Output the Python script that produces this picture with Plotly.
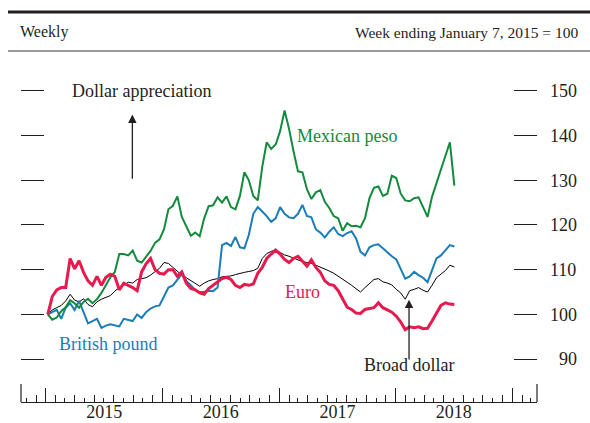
import pandas as pd
import plotly.graph_objects as go

# ---------------- data (biweekly, week ending Jan 7 2015 = 100) ----------------
dates = pd.date_range("2015-01-07", periods=92, freq="14D")

mexican_peso = [
    100, 98.8, 99.3, 100.7, 101.6, 103.2, 102.5, 101.5, 102.8, 103.5,
    102.5, 103.4, 104.8, 106.5, 108.3, 109.5, 113.5, 113.5, 113.2, 114.3,
    112, 111.6, 112.8, 114.2, 116, 116.8, 119, 123.5, 124.3, 126.4,
    121.8, 119.5, 117.6, 118.3, 117.5, 121.5, 124.2, 124.4, 126.2, 125,
    126.4, 124, 123.5, 126.5, 131.8, 130, 126.5, 125.5, 133, 138.5,
    137, 138, 141, 145.6, 141.5, 136.5, 132, 131.8, 128, 125.8,
    127.3, 127.8, 125.2, 123.8, 122, 121.5, 118.7, 120.4, 119.7, 119.8,
    119.5, 121.5, 126, 128.3, 128.6, 126.5, 127, 131, 130.5, 127,
    125.5, 125.3, 126, 126.2, 123.8, 121.8, 126.3, 129.5, 132.5, 135.5,
    138.5, 128.8,
]

british_pound = [
    100, 100.5, 101, 99, 101.5, 102.5, 101, 103, 100.5, 98,
    98.5, 99, 97, 97.5, 97.8, 97.6, 97.3, 99, 98.8, 98.5,
    100, 99.2, 100.5, 101.3, 101.8, 102, 104, 106, 106.5, 107.8,
    109, 107.5, 106.5, 105.5, 105, 105, 105.3, 105.2, 106, 115.5,
    116, 115.3, 117.3, 115, 114.8, 117.8, 122.5, 124, 123, 122,
    120.7, 121.5, 124, 122.5, 121.7, 121.5, 122.5, 124.5, 122, 121.7,
    119, 118.3, 117.2, 118.5, 119.5, 118, 117.5, 118.2, 118.6, 117,
    114, 113.2, 115, 115.5, 115.7, 114.8, 113.8, 113, 112.3, 110,
    108, 108.5, 109.5, 108.8, 108.2, 107.2, 110, 112.5, 113.2, 114.3,
    115.5, 115.2,
]

euro = [
    100, 104, 105.5, 106, 106, 112.5, 110.2, 112, 109.4, 107.5,
    106.5, 108.5, 106.5, 108.3, 109, 108.5, 105.5, 107, 106.5, 106,
    105.3, 109.5, 111.3, 112.5, 110, 109.2, 109, 110, 110, 108.5,
    109.5, 107, 105.8, 105.5, 104.8, 104.5, 105.8, 106.5, 107.4, 108,
    108.3, 107.8, 106.5, 106, 106.7, 106.5, 106.8, 109.2, 110.5, 112.5,
    113.5, 114.4, 113.5, 112.3, 111.6, 112.5, 113, 112, 110.8, 112.2,
    110.5, 109.4, 107.5, 106.7, 106.5, 105.3, 103.5, 101.6, 101.1, 100.3,
    100.2, 101.1, 101.3, 101.5, 102.6, 101.5, 101, 100.5, 99.6, 98.3,
    96.6, 97.2, 97, 97.2, 96.8, 96.9, 98.5, 100.4, 102, 102.6,
    102.3, 102.2,
]

broad_dollar = [
    100, 101, 101.5, 102, 103, 104.5, 103.2, 102.8, 103.5, 102.2,
    101.7, 102.8, 103.4, 103.8, 104.2, 105.2, 106, 106.5, 107.2, 107,
    107.8, 108, 108.2, 108.8, 109.6, 110.3, 111.6, 111.4, 110.5, 109.6,
    108.8, 108.2, 107.6, 107, 106.3, 107, 107.5, 107.8, 108, 108.4,
    108.5, 108.6, 108.9, 109.2, 109.4, 109.6, 109.8, 110.3, 112.5, 113.6,
    114.1, 114.4, 113.9, 113.3, 113, 112.6, 112.2, 111.8, 111.6, 111.4,
    111, 110.6, 110.2, 109.7, 109.2, 108.6, 108, 107.2, 106.5, 105.8,
    105, 106, 107, 107.8, 108, 107.3, 107, 106.6, 105.6, 104.8,
    103.4, 105.3, 105.6, 106, 105.4, 105, 106.5, 108.2, 109, 109.8,
    111, 110.6,
]

y_ticks = [90, 100, 110, 120, 130, 140, 150]
y_tick_text = ["\u200790", "100", "110", "120", "130", "140", "150"]

# ---------------- figure ----------------
FONT = "Liberation Serif"
TXT = "#231f20"
GREEN = "#138a3c"
BLUE = "#1a7db6"
RED = "#e8194d"

W, H = 590, 423
L, R, T, B = 21, 53, 62, 21
PH = H - T - B

X_RANGE = ["2014-10-15", "2019-03-20"]
Y_RANGE = [80.4, 80.4 + PH / 4.47]


def px_y(py):
    """pixel row -> paper fraction"""
    return (H - B - py) / PH


def px_x(px):
    return (px - L) / (W - L - R)


fig = go.Figure()
fig.add_trace(go.Scatter(x=dates, y=broad_dollar, mode="lines",
                         line=dict(color="#000000", width=1), name="Broad dollar"))
fig.add_trace(go.Scatter(x=dates, y=british_pound, mode="lines",
                         line=dict(color=BLUE, width=2), name="British pound"))
fig.add_trace(go.Scatter(x=dates, y=mexican_peso, mode="lines",
                         line=dict(color=GREEN, width=2), name="Mexican peso"))
fig.add_trace(go.Scatter(x=dates, y=euro, mode="lines",
                         line=dict(color=RED, width=3), name="Euro"))
# invisible helper trace so the overlay axes are drawn
fig.add_trace(go.Scatter(x=[dates[0]], y=[100], xaxis="x2", yaxis="y2",
                         mode="markers", marker=dict(opacity=0), hoverinfo="skip",
                         showlegend=False))

mid_ticks = pd.date_range("2014-12-01", "2019-03-01", freq="2MS")

fig.update_layout(
    width=W, height=H,
    margin=dict(l=L, r=R, t=T, b=B, autoexpand=False),
    paper_bgcolor="white", plot_bgcolor="white",
    showlegend=False,
    font=dict(family=FONT, size=18, color=TXT),
    xaxis=dict(
        range=X_RANGE, type="date", automargin=False,
        showgrid=False, zeroline=False,
        showline=True, linecolor="#231f20", linewidth=1.2,
        ticks="inside", ticklen=14, tickwidth=1, tickcolor="#231f20",
        tick0="2015-01-01", dtick="M12", tickformat="%Y", ticklabelmode="period",
        ticklabelstandoff=-7,
        tickfont=dict(family=FONT, size=18, color=TXT),
        minor=dict(ticks="inside", ticklen=4, dtick="M1", tick0="2015-01-01",
                   tickcolor="#231f20", tickwidth=1, showgrid=False),
    ),
    xaxis2=dict(
        range=X_RANGE, type="date", overlaying="x", anchor="y", side="bottom",
        automargin=False,
        showgrid=False, zeroline=False, showline=False,
        ticks="inside", ticklen=7, tickwidth=1, tickcolor="#231f20",
        tickvals=mid_ticks, showticklabels=False,
    ),
    yaxis=dict(
        range=Y_RANGE, automargin=False,
        showgrid=False, zeroline=False, showline=False,
        tickvals=y_ticks, ticks="inside", ticklen=23, tickwidth=1.2,
        tickcolor="#231f20", showticklabels=False,
    ),
    yaxis2=dict(
        range=Y_RANGE, overlaying="y", side="right", anchor="x", automargin=False,
        showgrid=False, zeroline=False, showline=False,
        tickvals=y_ticks, ticktext=y_tick_text,
        ticks="inside", ticklen=23, tickwidth=1.2, tickcolor="#231f20",
        ticklabelstandoff=12,
        tickfont=dict(family=FONT, size=18, color=TXT),
    ),
)

# frame end caps of the x axis
for xp in (0, 1):
    fig.add_shape(type="line", xref="paper", yref="paper",
                  x0=xp, x1=xp, y0=0, y1=18 / PH,
                  line=dict(color="#231f20", width=1.2))

# header rules
fig.add_shape(type="line", xref="paper", yref="paper",
              x0=px_x(8), x1=px_x(590), y0=px_y(12), y1=px_y(12),
              line=dict(color="#231f20", width=3))
fig.add_shape(type="line", xref="paper", yref="paper",
              x0=px_x(8), x1=px_x(590), y0=px_y(51), y1=px_y(51),
              line=dict(color="#9a9a9a", width=2))

# header texts
fig.add_annotation(text="Weekly", xref="paper", yref="paper",
                   x=px_x(18), y=px_y(32), xanchor="left", yanchor="middle",
                   showarrow=False, font=dict(family=FONT, size=16, color=TXT))
fig.add_annotation(text="Week ending January 7, 2015 = 100", xref="paper", yref="paper",
                   x=px_x(580), y=px_y(32), xanchor="right", yanchor="middle",
                   showarrow=False, font=dict(family=FONT, size=15.5, color=TXT))

# in-plot labels
labels = [
    ("Dollar appreciation", "2015-03-17", 149.9, TXT),
    ("Mexican peso", "2017-02-20", 140.0, GREEN),
    ("British pound", "2015-02-04", 93.3, BLUE),
    ("Euro", "2017-01-13", 105.1, RED),
    ("Broad dollar", "2017-09-17", 88.6, TXT),
]
for text, xd, yv, col in labels:
    fig.add_annotation(text=text, x=xd, y=yv, xref="x", yref="y",
                       xanchor="left", yanchor="middle", showarrow=False,
                       font=dict(family=FONT, size=18, color=col))

# arrows
arrows = [
    ("2015-09-29", 144.7, 130.0),
    ("2018-02-12", 103.3, 89.6),
]
for xd, ytip, ytail in arrows:
    fig.add_annotation(x=xd, y=ytip, ax=xd, ay=ytail, xref="x", yref="y",
                       axref="x", ayref="y", text="", showarrow=True,
                       arrowhead=2, arrowsize=1.3, arrowwidth=1.3,
                       arrowcolor="#231f20", standoff=0, startstandoff=0)

fig.write_html("out.html",
               config={"displayModeBar": False},
               post_script="document.body.style.margin='0';document.body.style.overflow='hidden';")
